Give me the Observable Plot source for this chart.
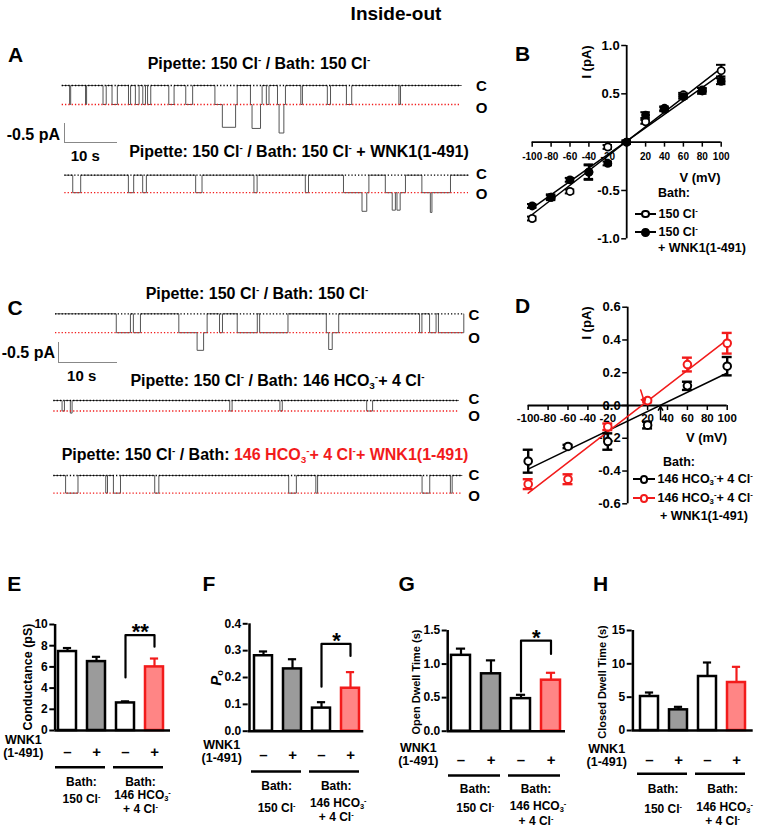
<!DOCTYPE html>
<html>
<head>
<meta charset="utf-8">
<script src="https://cdn.jsdelivr.net/npm/d3@7"></script>
<script src="https://cdn.jsdelivr.net/npm/@observablehq/plot@0.6"></script>
<style>
  html, body { margin: 0; padding: 0; background: #fff; }
  #fig { position: relative; width: 765px; height: 828px; overflow: hidden; background: #fff;
         font-family: Arial, "Liberation Sans", Helvetica, sans-serif; font-weight: bold; color: #000; }
  #fig > svg { position: absolute; left: 0; top: 0; }
  .t { position: absolute; white-space: nowrap; line-height: 1; }
  .t sup { font-size: 0.62em; vertical-align: 0.6em; line-height: 0; }
  .t sub { font-size: 0.62em; vertical-align: -0.3em; line-height: 0; }
  .seg { position: absolute; }
</style>
</head>
<body>
<div id="fig"></div>
<script>
// ================= DATA =================
// Single-channel recordings: openings as [start (s), end (s), current (pA)]
const traceA1 = [[1.4,1.6,-0.5],[4.4,4.6,-0.5],[7.7,8.3,-0.5],[9.4,10.4,-0.5],[12.5,12.9,-0.5],[13.8,14.5,-0.5],
  [15.2,15.7,-0.5],[16.1,16.7,-0.5],[20.1,21.1,-0.5],[23.3,24.6,-0.5],[28.8,30.2,-0.5],[30.2,32.7,-1.1],[32.7,33.0,-0.5],
  [35.5,35.8,-0.5],[35.8,37.4,-1.13],[37.4,37.7,-0.5],[38.5,39.0,-0.5],[40.6,40.9,-0.5],[40.9,41.8,-1.25],[41.8,42.1,-0.5],
  [45.0,45.3,-0.5],[50.0,50.6,-0.5],[53.6,54.6,-0.5],[63.5,63.8,-0.5]];
const traceA1Dur = 75.3, traceA1Open = -0.5;
const traceA2 = [[1.5,3.0,-0.46],[12.0,13.0,-0.46],[14.7,15.4,-0.46],[24.7,25.9,-0.46],[35.7,36.3,-0.46],[45.4,46.0,-0.46],
  [52.6,56.1,-0.46],[56.1,57.0,-0.95],[57.0,57.4,-0.46],[60.5,61.8,-0.46],[61.8,62.4,-0.92],[62.4,62.7,-0.46],[62.7,63.3,-0.92],
  [63.3,64.3,-0.46],[67.4,69.0,-0.46],[69.0,69.3,-0.98],[69.3,72.8,-0.46]];
const traceA2Dur = 76.2, traceA2Open = -0.46;
const traceC1 = [[10.3,12.7,-0.45],[13.2,14.4,-0.45],[20.9,24.0,-0.45],[24.0,25.1,-0.87],[25.1,25.7,-0.45],[27.8,28.3,-0.45],
  [30.8,34.2,-0.45],[34.6,39.4,-0.45],[45.9,46.3,-0.45],[46.3,46.9,-0.85],[46.9,48.0,-0.45],[61.7,62.1,-0.45],[63.4,64.5,-0.45],
  [64.9,69.2,-0.45]];
const traceC1Dur = 69.2, traceC1Open = -0.45;
const traceC2 = [[1.4,1.8,-0.25],[2.8,3.1,-0.3],[29.8,30.2,-0.25],[38.3,38.7,-0.25],[53.0,54.0,-0.25]];
const traceC2Dur = 68.6, traceC2Open = -0.25;
const traceC3 = [[2.0,4.1,-0.42],[8.8,9.1,-0.42],[10.1,11.3,-0.42],[17.1,17.8,-0.42],[39.8,41.1,-0.42],[44.4,44.7,-0.42],
  [62.4,63.7,-0.42],[67.2,67.5,-0.42]];
const traceC3Dur = 69.2, traceC3Open = -0.42;

// Panel B: I-V, bath 150 Cl- (+/- WNK1)
const ivB_V = [-100,-80,-60,-40,-20,0,20,40,60,80,100];
const ivB_cl = [-0.79,-0.57,-0.51,-0.31,-0.05,0.0,0.21,0.34,0.49,0.54,0.74];
const ivB_clSem = [0.02,0.02,0.02,0.07,0.02,0.01,0.02,0.02,0.02,0.02,0.06];
const ivB_wnk = [-0.66,-0.57,-0.39,-0.31,-0.22,0.0,0.28,0.35,0.47,0.53,0.63];
const ivB_wnkSem = [0.02,0.03,0.02,0.08,0.02,0.02,0.03,0.02,0.02,0.03,0.03];
const ivB_iTicks = [-1,-0.5,0,0.5,1];
const ivB_iLabels = [-1,-0.5,0.5,1];

// Panel D: I-V, bath 146 HCO3- + 4 Cl- (+/- WNK1)
const ivD_V = [-100,-60,-20,20,60,100];
const ivD_hco = [-0.34,-0.25,-0.22,-0.12,0.12,0.24];
const ivD_hcoSem = [0.07,0.01,0.05,0.02,0.025,0.056];
const ivD_wnk = [-0.48,-0.45,-0.13,0.03,0.25,0.38];
const ivD_wnkSem = [0.03,0.03,0.02,0.01,0.042,0.063];
const ivD_rev = [33, 17];          // reversal potentials (mV): control, WNK1
const ivD_iTicks = [-0.6,-0.4,-0.2,0,0.2,0.4,0.6];

const vTicks = [-100,-80,-60,-40,-20,0,20,40,60,80,100];
const vLabels = [-100,-80,-60,-40,-20,20,40,60,80,100];

// Panels E-H: bars (150 Cl- -/+ WNK1, 146 HCO3- -/+ WNK1)
const barKeys = ["cl-", "cl+", "hco-", "hco+"];
const wnkSigns = ["\u2013", "+", "\u2013", "+"];
const conductance = [7.45, 6.5, 2.6, 6.0];
const conductanceSem = [0.33, 0.45, 0.15, 0.79];
const openProb = [0.281, 0.232, 0.086, 0.16];
const openProbSem = [0.016, 0.036, 0.022, 0.06];
const openDwell = [1.13, 0.855, 0.485, 0.76];
const openDwellSem = [0.1, 0.2, 0.057, 0.11];
const closedDwell = [5.1, 3.1, 8.1, 7.2];
const closedDwellSem = [0.6, 0.45, 2.1, 2.35];
const ticksE = [0,2,4,6,8,10], ticksF = [0,0.1,0.2,0.3,0.4], ticksG = [0,0.5,1,1.5], ticksH = [0,5,10,15];

// ================= LAYOUT / HELPERS =================
const fig = document.getElementById("fig");
const W = 765, H = 828;
const RED = "#f21b1b";
const FONT = "Arial, 'Liberation Sans', Helvetica, sans-serif";
const CL = "Cl<sup>-</sup>";
const HCO = "HCO<sub>3</sub><sup>-</sup>";

function frame(x0, x1, y0, y1) {
  return {
    width: W, height: H,
    marginLeft: x0, marginRight: W - x1, marginTop: y0, marginBottom: H - y1,
    style: {background: "transparent", overflow: "visible", fontFamily: FONT, fontWeight: "bold",
            fontSize: "12px", color: "#000", position: "absolute", left: "0px", top: "0px", maxWidth: "none"}
  };
}
function txt(html, x, y, o = {}) {
  const el = document.createElement("div");
  el.className = "t";
  el.innerHTML = html;
  el.style.left = x + "px";
  el.style.top = y + "px";
  el.style.fontSize = (o.size || 13) + "px";
  if (o.color) el.style.color = o.color;
  if (o.italic) el.style.fontStyle = "italic";
  const a = o.anchor || "middle";
  const tx = a === "start" ? "0%" : a === "end" ? "-100%" : "-50%";
  el.style.transform = `translate(${tx},-50%)` + (o.rotate ? ` rotate(${o.rotate}deg)` : "");
  fig.appendChild(el);
  return el;
}
function seg(x0, y0, x1, y1, color = "#888", w = 1) {
  const el = document.createElement("div");
  el.className = "seg";
  if (y0 === y1) { el.style.left = x0 + "px"; el.style.top = (y0 - w / 2) + "px"; el.style.width = (x1 - x0) + "px"; el.style.height = w + "px"; }
  else { el.style.left = (x0 - w / 2) + "px"; el.style.top = y0 + "px"; el.style.width = w + "px"; el.style.height = (y1 - y0) + "px"; }
  el.style.background = color;
  fig.appendChild(el);
}
function legendItem(x0, x1, y, color, filled, html, size) {
  seg(x0, y, x1, y, color, 2);
  const c = document.createElement("div");
  c.className = "seg";
  const d = 8.5;
  c.style.left = ((x0 + x1) / 2 - d / 2) + "px"; c.style.top = (y - d / 2) + "px";
  c.style.width = d + "px"; c.style.height = d + "px"; c.style.boxSizing = "border-box";
  c.style.border = `2px solid ${color}`; c.style.borderRadius = "50%";
  c.style.background = filled ? color : "#fff";
  fig.appendChild(c);
  txt(html, x1 + 2.5, y, {anchor: "start", size});
}
const add = (p) => fig.appendChild(p);

// ---------- single-channel traces ----------
function trace(events, dur, openLevel, x0, x1, yClosed, pxPerPA) {
  const pts = [{t: 0, i: 0}];
  events.forEach(([a, b, c], k) => {
    pts.push({t: a, i: c});
    const nx = events[k + 1];
    if (!nx || nx[0] > b) pts.push({t: b, i: 0});
  });
  pts.push({t: dur, i: 0});
  add(Plot.plot({
    ...frame(x0, x1, yClosed, yClosed + pxPerPA),
    x: {domain: [0, dur], axis: null},
    y: {domain: [-1, 0], axis: null},
    marks: [
      Plot.line(pts, {x: "t", y: "i", curve: "step-after", stroke: "#555", strokeWidth: 1}),
      Plot.ruleY([openLevel], {stroke: RED, strokeDasharray: "1.3,2", strokeWidth: 1.3}),
      Plot.ruleY([0], {stroke: "#000", strokeDasharray: "1.3,2", strokeWidth: 1.3})
    ]
  }));
}

// ---------- I-V panels ----------
function ivPanel(c) {
  const tickI = 5 * (c.yDom[1] - c.yDom[0]) / (c.yBot - c.yTop);
  const tickV = 5 * 200 / (c.x1 - c.x0);
  const marks = [
    Plot.ruleY([0], {stroke: "#000", strokeWidth: 1.8}),
    Plot.ruleX([0], {stroke: "#000", strokeWidth: 1.8}),
    Plot.ruleX(vTicks, {x: d => d, y1: 0, y2: -tickI, strokeWidth: 1.5}),
    Plot.ruleY(c.iTicks, {y: d => d, x1: 0, x2: -tickV, strokeWidth: 1.5}),
    Plot.text(vLabels, {x: d => d, y: 0, dy: c.xLabelDy, text: d => String(d), fontSize: c.xLabelSize, fontWeight: "bold"}),
    Plot.text(c.iLabels, {x: 0, y: d => d, dx: -7, textAnchor: "end", text: d => d.toFixed(1), fontSize: c.yLabelSize, fontWeight: "bold"})
  ];
  for (const s of c.series) {
    const data = c.V.map((v, k) => ({v, i: s.y[k], e: s.e[k]}));
    marks.push(Plot.linearRegressionY(data, {x: "v", y: "i", stroke: s.color, strokeWidth: 1.5, ci: 0}));
  }
  for (const s of c.series) {
    const data = c.V.map((v, k) => ({v, i: s.y[k], e: s.e[k]}));
    marks.push(Plot.ruleX(data, {x: "v", y1: d => d.i - d.e, y2: d => d.i + d.e, stroke: s.color, strokeWidth: c.ew}));
    marks.push(Plot.ruleY(data, {y: d => d.i + d.e, x1: d => d.v - c.cap, x2: d => d.v + c.cap, stroke: s.color, strokeWidth: c.ew}));
    marks.push(Plot.ruleY(data, {y: d => d.i - d.e, x1: d => d.v - c.cap, x2: d => d.v + c.cap, stroke: s.color, strokeWidth: c.ew}));
    marks.push(Plot.dot(data, {x: "v", y: "i", r: c.r, fill: s.filled ? s.color : "#fff", stroke: s.color, strokeWidth: c.sw}));
  }
  if (c.extra) marks.push(...c.extra);
  add(Plot.plot({
    ...frame(c.x0, c.x1, c.yTop, c.yBot),
    x: {domain: [-100, 100], axis: null},
    y: {domain: c.yDom, axis: null},
    marks
  }));
}

// ---------- bar panels ----------
const barFill = ["#ffffff", "#9b9b9b", "#ffffff", "#ff8585"];
const barStroke = ["#000000", "#000000", "#000000", RED];
function barPanel(c) {
  const sw = 2.5, outer = 21.3;
  const bw = outer - sw;
  const p = 1 - bw / c.step;
  const o = (c.c1 - c.axisX) / c.step - (1 - p) / 2;
  const r1 = c.axisX + c.step * (4 - p + 2 * o);
  const data = barKeys.map((k, i) => ({k, v: c.values[i], e: c.sems[i], fill: barFill[i], stroke: barStroke[i], s: wnkSigns[i]}));
  const groups = [{a: barKeys[0], b: barKeys[1]}, {a: barKeys[2], b: barKeys[3]}];
  const capInset = (bw - 9) / 2;
  const marks = [
    Plot.ruleX(data, {x: "k", y1: "v", y2: d => d.v + d.e, stroke: "stroke", strokeWidth: 2.2}),
    Plot.tickY(data, {x: "k", y: d => d.v + d.e, stroke: "stroke", strokeWidth: 2.2, insetLeft: capInset, insetRight: capInset}),
    Plot.barY(data, {x: "k", y: "v", fill: "fill", stroke: "stroke", strokeWidth: sw}),
    Plot.ruleY([0], {stroke: "#000", strokeWidth: 2.5, insetRight: -(c.xEnd - r1)}),
    Plot.ruleX([barKeys[0]], {x: d => d, y1: 0, y2: c.yMax, dx: -(c.c1 - c.axisX), stroke: "#000", strokeWidth: 2.5}),
    Plot.axisY(c.ticks, {tickFormat: c.fmt, tickSize: 5, tickPadding: 2, fontSize: 12, fontWeight: "bold", label: null, strokeWidth: 2}),
    Plot.text(data, {x: "k", y: 0, dy: c.signDy, text: "s", fontSize: 15, fontWeight: "bold"}),
    Plot.ruleY(groups, {x1: "a", x2: "b", y: 0, dy: c.lineDy, stroke: "#000", strokeWidth: 2.5, insetLeft: -3, insetRight: 0})
  ];
  if (c.sig) {
    const s = c.sig;
    const br = [{k: s.from, y: s.y[0]}, {k: s.from, y: s.y[1]}, {k: s.to, y: s.y[1]}, {k: s.to, y: s.y[2]}];
    marks.push(Plot.line(br, {x: "k", y: "y", stroke: "#000", strokeWidth: 2.2}));
    marks.push(Plot.text([s], {x: "from", y: d => d.y[1], dx: c.step / 2, dy: -3, text: "label", fontSize: 22, fontWeight: "bold"}));
  }
  add(Plot.plot({
    ...frame(c.axisX, r1, c.yTop, c.y0),
    x: {type: "band", domain: barKeys, paddingInner: p, paddingOuter: o, axis: null},
    y: {domain: [0, c.yMax], axis: null},
    color: {type: "identity"},
    marks
  }));
  // group annotations
  const g1 = c.c1 + c.step / 2, g2 = c.c1 + 2.5 * c.step;
  txt("WNK1", c.wnkX, c.wnkY, {size: 12.5});
  txt("(1-491)", c.wnkX, c.wnkY + 12.5, {size: 12.5});
  txt("Bath:", g1, c.bathY, {size: 12});
  txt("Bath:", g2, c.bathY, {size: 12});
  txt(`150 ${CL}`, g1, c.clY, {size: 12});
  txt(`146 ${HCO}`, g2 + 2, c.hcoY, {size: 12});
  txt(`+ 4 ${CL}`, g2, c.hcoY + 14.5, {size: 12});
  txt(c.title, c.titleX, c.titleY, {size: c.titleSize, rotate: -90, italic: c.italic});
}

// ================= DRAW =================
txt("Inside-out", 396, 13, {size: 19});
const letters = [["A", 15.7, 54.3], ["B", 522.5, 52.7], ["C", 15, 307], ["D", 522.5, 305],
                 ["E", 14.2, 583.3], ["F", 209, 583.3], ["G", 406.7, 583.3], ["H", 600.5, 583.3]];
letters.forEach(([l, x, y]) => txt(l, x, y, {size: 21}));

// Panel A
txt(`Pipette: 150 ${CL} / Bath: 150 ${CL}`, 259, 64, {size: 16});
trace(traceA1, traceA1Dur, traceA1Open, 61.7, 461, 85, 38);
txt(`Pipette: 150 ${CL} / Bath: 150 ${CL} + WNK1(1-491)`, 299, 151.7, {size: 16});
trace(traceA2, traceA2Dur, traceA2Open, 64.3, 468, 174.7, 38);
[["C", 85], ["O", 106.7], ["C", 173.3], ["O", 192.7]].forEach(([l, y]) => txt(l, 481.5, y, {size: 15}));
seg(64, 123, 64, 142, "#888", 1); seg(64, 142, 117, 142, "#888", 1);
txt("-0.5 pA", 60, 135, {anchor: "end", size: 16});
txt("10 s", 85.3, 155, {size: 15});

// Panel C
txt(`Pipette: 150 ${CL} / Bath: 150 ${CL}`, 257, 294, {size: 16});
trace(traceC1, traceC1Dur, traceC1Open, 55, 463.3, 313.3, 42);
txt(`Pipette: 150 ${CL} / Bath: 146 ${HCO}+ 4 ${CL}`, 277.5, 380.7, {size: 16});
trace(traceC2, traceC2Dur, traceC2Open, 53.3, 458.3, 400, 42);
txt(`Pipette: 150 ${CL} / Bath: <span style="color:${RED}">146 ${HCO}+ 4 ${CL}+ WNK1(1-491)</span>`, 61.7, 455, {anchor: "start", size: 16});
trace(traceC3, traceC3Dur, traceC3Open, 53.3, 461.7, 475, 42);
[["C", 314.3], ["O", 336.7], ["C", 398.3], ["O", 415], ["C", 474.3], ["O", 495]].forEach(([l, y]) => txt(l, 474, y, {size: 15}));
seg(58.3, 341.7, 58.3, 362.7, "#888", 1); seg(58.3, 362.7, 117.3, 362.7, "#888", 1);
txt("-0.5 pA", 55, 353.3, {anchor: "end", size: 16});
txt("10 s", 81.7, 375, {size: 15});

// Panel B
ivPanel({
  x0: 531.7, x1: 720.7, yTop: 45, yBot: 238.3, yDom: [-1, 1], V: ivB_V,
  series: [{y: ivB_cl, e: ivB_clSem, color: "#000", filled: false}, {y: ivB_wnk, e: ivB_wnkSem, color: "#000", filled: true}],
  iTicks: ivB_iTicks, iLabels: ivB_iLabels, xLabelSize: 10, xLabelDy: 15, yLabelSize: 13, r: 3.6, sw: 1.7, ew: 2, cap: 5
});
txt("I (pA)", 586, 61.7, {size: 13, rotate: -90});
txt("V (mV)", 700, 176.7, {size: 13});
txt("Bath:", 674, 193.3, {size: 12.5});
legendItem(635, 656, 214, "#000", false, `150 ${CL}`, 12.5);
legendItem(635, 656, 232.3, "#000", true, `150 ${CL}`, 12.5);
txt("+ WNK1(1-491)", 658, 248.3, {anchor: "start", size: 12.5});

// Panel D
const revData = [{v: ivD_rev[0], c: "#000", dv: 0, di: -0.085, tip: -0.005}, {v: ivD_rev[1], c: RED, dv: -4, di: 0.095, tip: 0.018}];
ivPanel({
  x0: 527.7, x1: 726.7, yTop: 306.7, yBot: 503.3, yDom: [-0.6, 0.6], V: ivD_V,
  series: [{y: ivD_hco, e: ivD_hcoSem, color: "#000", filled: false}, {y: ivD_wnk, e: ivD_wnkSem, color: RED, filled: false}],
  iTicks: ivD_iTicks, iLabels: ivD_iTicks, xLabelSize: 11.5, xLabelDy: 13, yLabelSize: 13, r: 3.8, sw: 2, ew: 2.4, cap: 5,
  extra: [Plot.arrow(revData, {x1: d => d.v + d.dv, y1: "di", x2: "v", y2: "tip", stroke: "c", strokeWidth: 1.5, headLength: 9})]
});
txt("I (pA)", 586, 323.3, {size: 13, rotate: -90});
txt("V (mV)", 706.5, 436.7, {size: 13});
txt("Bath:", 679, 461.7, {size: 12.5});
legendItem(633, 655, 479.3, "#000", false, `146 ${HCO}+ 4 ${CL}`, 12.5);
legendItem(633, 655, 498.3, RED, false, `146 ${HCO}+ 4 ${CL}`, 12.5);
txt("+ WNK1(1-491)", 660, 516, {anchor: "start", size: 12.5});

// Panels E-H
barPanel({values: conductance, sems: conductanceSem, yMax: 10, ticks: ticksE, fmt: d => String(d),
  axisX: 54.3, c1: 66.7, step: 29.53, xEnd: 170, y0: 730, yTop: 624, signDy: 22, lineDy: 36.7,
  sig: {from: "hco-", to: "hco+", y: [5.0, 9.0, 7.9], label: "**"},
  wnkX: 23.3, wnkY: 740, bathY: 781.7, clY: 798.5, hcoY: 794.5,
  title: "Conductance (pS)", titleX: 27.5, titleY: 676.7, titleSize: 12.5});
barPanel({values: openProb, sems: openProbSem, yMax: 0.4, ticks: ticksF, fmt: d => d.toFixed(1),
  axisX: 247.7, c1: 261.7, step: 29.83, xEnd: 363.3, y0: 730.7, yTop: 623.3, signDy: 24.3, lineDy: 40.3,
  sig: {from: "hco-", to: "hco+", y: [0.166, 0.325, 0.28], label: "*"},
  wnkX: 221.7, wnkY: 745, bathY: 786, clY: 808, hcoY: 802.7,
  title: "<i>P</i><sub style='font-style:normal'>o</sub>", titleX: 215, titleY: 678.3, titleSize: 15});
barPanel({values: openDwell, sems: openDwellSem, yMax: 1.5, ticks: ticksG, fmt: d => d.toFixed(1),
  axisX: 446.7, c1: 460, step: 30.4, xEnd: 565, y0: 730.7, yTop: 630, signDy: 28.5, lineDy: 44.3,
  sig: {from: "hco-", to: "hco+", y: [0.59, 1.35, 1.15], label: "*"},
  wnkX: 418.3, wnkY: 748.3, bathY: 789.3, clY: 808, hcoY: 806,
  title: "Open Dwell Time (s)", titleX: 416, titleY: 681.7, titleSize: 11});
barPanel({values: closedDwell, sems: closedDwellSem, yMax: 15, ticks: ticksH, fmt: d => String(d),
  axisX: 631.7, c1: 648.3, step: 29.7, xEnd: 752.7, y0: 730, yTop: 630, signDy: 29.3, lineDy: 43.3,
  sig: null,
  wnkX: 606.7, wnkY: 749.3, bathY: 789.3, clY: 808.7, hcoY: 806.7,
  title: "Closed Dwell Time (s)", titleX: 602, titleY: 681.7, titleSize: 11});
</script>
</body>
</html>
